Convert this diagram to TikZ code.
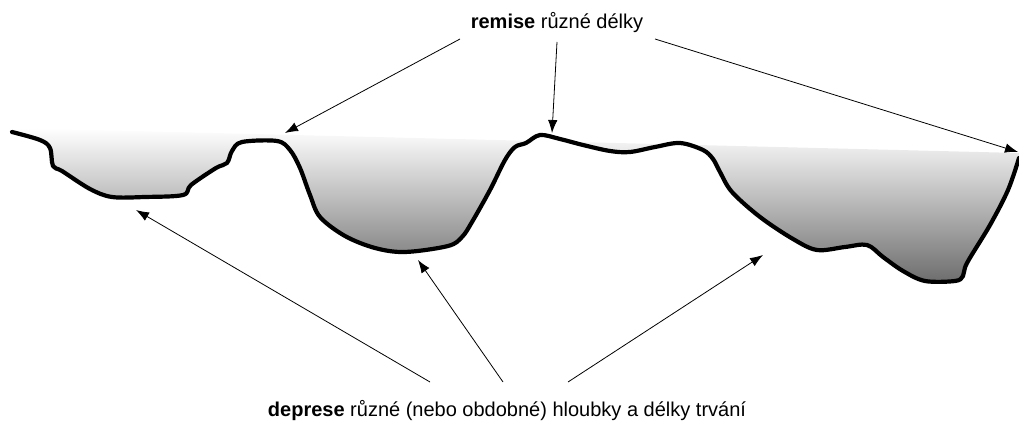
\documentclass[tikz,border=0pt]{standalone}
\usepackage{fontspec}
\setmainfont{Liberation Sans}
\usetikzlibrary{arrows.meta}
\definecolor{deepgray}{gray}{0.40}
\tikzset{
  ground/.style={line width=4.2pt, line join=round, line cap=round},
  pointer/.style={line width=0.8pt, -{Latex[length=13pt,width=9.5pt]}},
  caption/.style={font=\fontsize{20}{24}\selectfont, inner sep=0pt}
}
\begin{document}
\begin{tikzpicture}[x=1pt,y=-1pt]
\useasboundingbox (0,0) rectangle (1019,427);
\def\groundpath{plot[smooth, tension=0.55] coordinates {(12,132) (40,140) (50,148) (53,166) (62,171) (90,189) (112,197) (145,197) (183,195) (191,185) (216,168) (227,163) (232,151) (242,142) (277,141) (290,150) (300,168) (310,195) (320,217) (345,236) (375,248) (405,252) (448,246) (462,237) (472,222) (490,190) (505,160) (515,147) (526,143) (540,135) (560,139) (583,145) (610,151) (630,152) (655,147) (680,143) (703,150) (713,159) (720,172) (732,192) (760,217) (793,239) (817,250) (845,247) (867,245) (883,257) (903,271) (925,281) (955,281) (963,276) (967,263) (990,225) (1008,190) (1019,158)}}
\begin{scope}
  \clip \groundpath -- (1019,0) -- (12,0) -- cycle;
  \shade[top color=white, bottom color=deepgray] (12,128) -- (1019,153) -- (1019,290) -- (12,290) -- cycle;
\end{scope}
\draw[ground] \groundpath;
\node[caption] (top) at (557,23) {\textbf{remise} různé délky};
\node[caption] (bot) at (507,411) {\textbf{deprese} různé (nebo obdobné) hloubky a délky trvání};
\coordinate (ts1) at (460,39);
\coordinate (ts2) at (557,42);
\coordinate (ts3) at (655,39);
\coordinate (tt1) at (285,133);
\coordinate (tt2) at (552,133);
\coordinate (tt3) at (1018,152);
\coordinate (bs1) at (430,382);
\coordinate (bs2) at (503,382);
\coordinate (bs3) at (568,382);
\coordinate (bt1) at (136,210);
\coordinate (bt2) at (418,260);
\coordinate (bt3) at (763,255);
\draw[pointer] (ts1) -- (tt1);
\draw[pointer] (ts2) -- (tt2);
\draw[pointer] (ts3) -- (tt3);
\draw[pointer] (bs1) -- (bt1);
\draw[pointer] (bs2) -- (bt2);
\draw[pointer] (bs3) -- (bt3);
\end{tikzpicture}
\end{document}
